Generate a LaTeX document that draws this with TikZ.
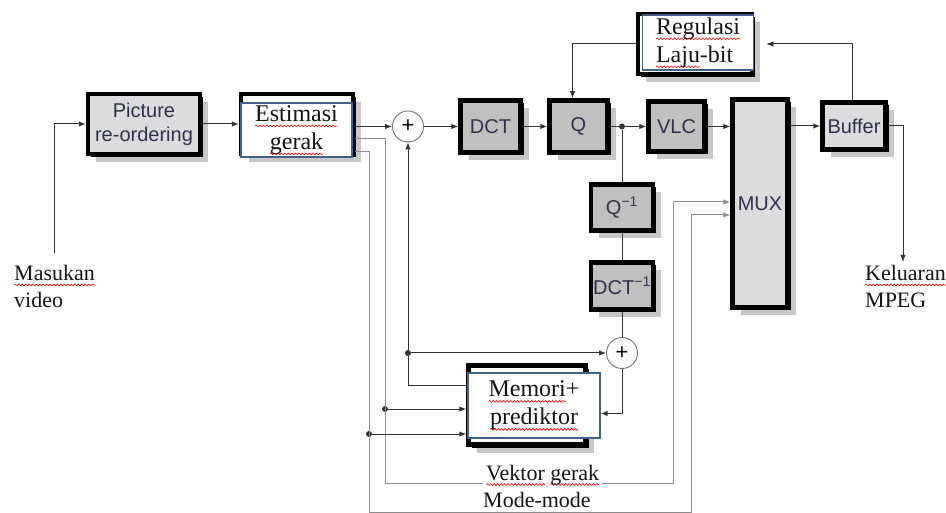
\documentclass[tikz,border=0pt]{standalone}
\usepackage{fontspec}
\setmainfont{Liberation Serif}
\setsansfont{Liberation Sans}
\usetikzlibrary{arrows.meta,shadows,decorations.pathmorphing}
\definecolor{ink}{HTML}{151515}
\definecolor{wire}{HTML}{333333}
\definecolor{wiregrey}{HTML}{8C8C8C}
\definecolor{boxgrey}{HTML}{C0C0C0}
\definecolor{boxlight}{HTML}{DCDCDF}
\definecolor{frameblue}{HTML}{41628F}
\definecolor{label}{HTML}{2E3148}
\newcommand{\boxfont}{\fontsize{20}{24}\sffamily\selectfont}
\newcommand{\labfont}{\fontsize{22}{27}\selectfont}
\newcommand{\bigfont}{\fontsize{24}{28}\selectfont}
\newcommand{\sumfont}{\fontsize{22}{22}\sffamily\selectfont}
\newsavebox{\sqbox}
\newlength{\sqlen}
\newcommand{\sq}[1]{\sbox{\sqbox}{#1}\setlength{\sqlen}{\wd\sqbox}%
  \rlap{\tikz[baseline=0pt,overlay]\draw[draw=red,line width=0.6pt,decorate,
    decoration={snake,segment length=3.5pt,amplitude=0.9pt}] (0pt,-4.5pt) -- (\sqlen,-4.5pt);}%
  \usebox{\sqbox}}

\begin{document}
\begin{tikzpicture}[x=1pt,y=-1pt,
  box/.style={draw=black,line width=4.5pt,fill=boxgrey,text=label,font=\boxfont,inner sep=0pt,
    drop shadow={shadow xshift=8pt,shadow yshift=-8pt,opacity=0.22,fill=black},
    drop shadow={shadow xshift=3pt,shadow yshift=-3pt,opacity=1,fill=black}},
  lbox/.style={box,fill=boxlight},
  wbox/.style={box,fill=white},
  bluebox/.style={draw=frameblue,line width=1.4pt,fill=white,text=ink,font=\bigfont,align=center,inner sep=0pt},
  sig/.style={draw=wire,line width=1pt},
  aux/.style={draw=wiregrey,line width=1pt},
  arr/.style={-{Latex[length=7pt,width=5.5pt]}},
  jdot/.style={circle,fill=wire,inner sep=0pt,minimum size=6pt},
  sum/.style={circle,draw=black!55,line width=0.9pt,fill=white,minimum size=31pt,inner sep=0pt,font=\sumfont},
  lab/.style={inner sep=0pt,text=ink,font=\labfont,align=left}]
\useasboundingbox (0,0) rectangle (946,513);
% blocks
\node[lbox,minimum width=112,minimum height=60,align=center] (pic) at (144,124) {Picture\\re-ordering};
\node[wbox,minimum width=112,minimum height=60] (est) at (297,124) {};
\node[bluebox,minimum width=111,minimum height=54] (estt) at (296.5,130) {\sq{Estimasi}\\\sq{gerak}};
\node[box,minimum width=60,minimum height=52] (dct) at (490.5,126.5) {DCT};
\node[box,minimum width=58,minimum height=52] (q) at (578.5,126.5) {Q};
\node[box,minimum width=56,minimum height=50] (vlc) at (676.5,126.5) {VLC};
\node[lbox,minimum width=55,minimum height=208] (mux) at (760,203.5) {MUX};
\node[lbox,minimum width=63,minimum height=47] (buf) at (854,126) {Buffer};
\node[box,minimum width=62,minimum height=46] (qinv) at (622,207.5) {Q\textsuperscript{−1}};
\node[box,minimum width=62,minimum height=47] (dcti) at (622,286) {DCT\textsuperscript{−1}};
\node[wbox,minimum width=114,minimum height=60] (reg) at (695,44) {};
\node[bluebox,minimum width=111,minimum height=55,align=left] (regt) at (698,42.5) {\sq{Regulasi}\\\sq{Laju}-bit};
\node[wbox,minimum width=117,minimum height=79] (mem) at (527,405) {};
\node[bluebox,minimum width=132,minimum height=65] (memt) at (534,405.5) {\sq{Memori}+\\ \sq{prediktor}};
% adders and junctions
\node[sum] (p1) at (408,126.5) {+};
\node[sum] (p2) at (622,353) {+};
\node[jdot] (qdot) at (622,126.5) {};
\node[jdot] (mdot) at (408,353) {};
\node[jdot] (vdot) at (385,409) {};
\node[jdot] (mmdot) at (369,434) {};
\coordinate (inp) at (54,253);
\coordinate (outp) at (903,262);
\coordinate (vg) at (385,483);
\coordinate (mm) at (369,512);
\coordinate (vgup) at (673,202);
\coordinate (mmup) at (691,215);
% in and out
\node[lab,anchor=north west] (masukan) at (14,265) {\sq{Masukan}\\video};
\node[lab,anchor=north west] (keluaran) at (865,265) {\sq{Keluaran}\\MPEG};
% forward path
\draw[sig,arr] (inp) |- (pic);
\draw[sig,arr] (pic) -- (est);
\draw[sig,arr] (est.east |- p1) -- (p1);
\draw[sig,arr] (p1) -- (dct);
\draw[sig,arr] (dct) -- (q);
\draw[sig,arr] (q) -- (vlc);
\draw[sig,arr] (vlc.east) -- (vlc.east -| mux.west);
\draw[sig,arr] (mux.east |- buf) -- (buf);
\draw[sig,arr] (buf) -| (outp);
% rate control
\draw[sig,arr] ([xshift=-2pt]buf.north) |- ([xshift=12pt]reg.east);
\draw[sig,arr] (reg.west) -| ([xshift=-6pt]q.north);
% local decoder
\draw[sig] (qdot) -- (qinv);
\draw[sig] (qinv) -- (dcti);
\draw[sig] (dcti) -- (p2);
\draw[sig,arr] (p2) |- ([yshift=-8pt]memt.east);
\draw[sig] ([yshift=20pt]mem.west) -| (mdot);
\draw[sig,arr] (mdot) -- (p1);
\draw[sig,arr] (mdot) -- (p2);
% side info
\draw[aux,arr] ([yshift=-15pt]est.east) -| (vg) -| (vgup) -- (vgup -| mux.west);
\draw[aux,arr] ([yshift=-28pt]est.east) -| (mm) -| (mmup) -- (mmup -| mux.west);
\draw[sig,arr] (vdot) -- (vdot -| mem.west);
\draw[sig,arr] (mmdot) -- (mmdot -| mem.west);
\node[lab,fill=white,inner xsep=3pt,inner ysep=1pt,anchor=base west] (vektor) at (483,480) {\sq{Vektor} \sq{gerak}};
\node[lab,anchor=base west] (mode) at (483,507) {Mode-mode};
\end{tikzpicture}
\end{document}
